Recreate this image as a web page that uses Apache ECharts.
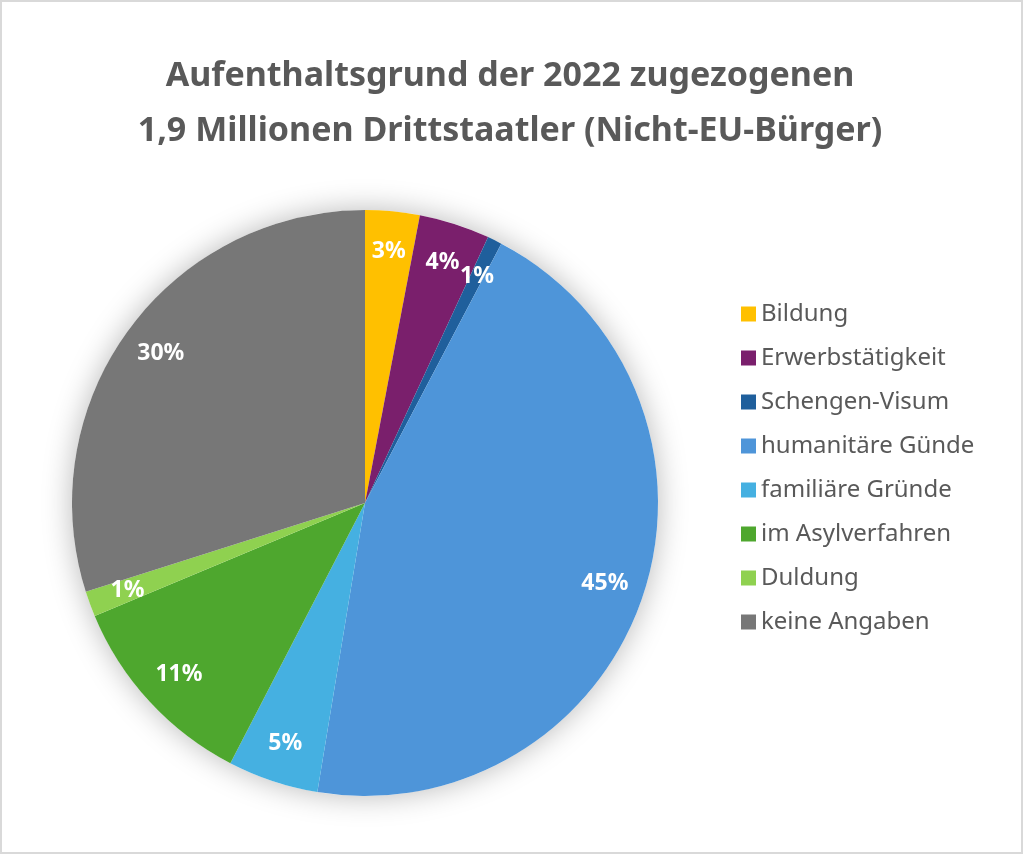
<!DOCTYPE html>
<html><head><meta charset="utf-8">
<script src="https://cdn.jsdelivr.net/npm/echarts@6/dist/echarts.min.js"></script>
<style>html,body{margin:0;padding:0;background:#fff}#c{width:1024px;height:855px}</style>
</head><body><div id="c"></div>
<script>
const categories = ['Bildung','Erwerbstätigkeit','Schengen-Visum','humanitäre Günde','familiäre Gründe','im Asylverfahren','Duldung','keine Angaben'];
const shares = [3.0, 3.9, 0.8, 44.9, 5.0, 11.1, 1.4, 29.9];
const colors = ['#FFC000','#7A1F6C','#1F5F9C','#4E95D9','#45B0E1','#4EA72E','#8FD150','#777777'];
const titleText = 'Aufenthaltsgrund der 2022 zugezogenen\n1,9 Millionen Drittstaatler (Nicht-EU-Bürger)';

const chart = echarts.init(document.getElementById('c'));
const font = '"Noto Sans", "Open Sans", sans-serif';
chart.setOption({
  animation: false,
  backgroundColor: '#fff',
  graphic: [{type:'rect', shape:{x:1,y:1,width:1021,height:852}, style:{fill:'none', stroke:'#d9d9d9', lineWidth:2}, silent:true}],
  title: {
    text: titleText, left: 505, top: 44, textAlign: 'center',
    textStyle: {fontFamily: font, fontSize: 34, fontWeight: 'bold', color: '#595959', lineHeight: 55}
  },
  legend: {
    orient: 'vertical', left: 736, top: 296, itemWidth: 15, itemHeight: 15, itemGap: 18,
    icon: 'rect', data: categories,
    textStyle: {fontFamily: font, fontSize: 24, color: '#595959', lineHeight: 26}
  },
  series: [
    {
      type: 'pie', center: [365, 503], radius: [0, 293], silent: true,
      data: [{value: 1, name: '__bg', itemStyle:{color:'#fff', shadowBlur: 30, shadowColor:'rgba(0,0,0,0.28)'}}],
      label: {show:false}, labelLine:{show:false}
    },
    {
      type: 'pie', center: [365, 503], radius: [0, 293], startAngle: 90, clockwise: true,
      color: colors,
      data: categories.map((n,i)=>({name:n, value:shares[i]})),
      label: {show:false}, labelLine:{show:false}, itemStyle:{borderWidth:0}
    },
    {
      type: 'pie', center: [365, 503], radius: [207, 293], startAngle: 90, clockwise: true, silent: true,
      color: colors.map(()=> 'rgba(0,0,0,0)'),
      data: categories.map((n,i)=>({name:n, value:shares[i], itemStyle:{color:'rgba(0,0,0,0)'}})),
      label: {show:true, position:'inside', formatter: p => Math.round(p.value) + '%',
        fontFamily: font, fontSize: 23, fontWeight: 'bold', color:'#fff'},
      labelLine:{show:false}
    }
  ]
});
</script></body></html>
